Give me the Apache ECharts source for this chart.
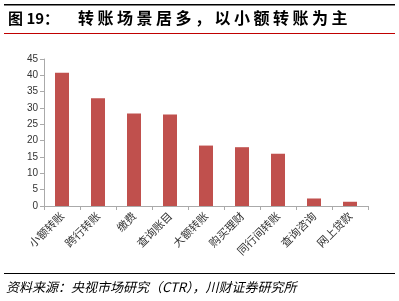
<!DOCTYPE html>
<html><head><meta charset="utf-8">
<script src="https://cdn.jsdelivr.net/npm/echarts@6/dist/echarts.min.js"></script>
<style>html,body{margin:0;padding:0;background:#fff;}#c{width:399px;height:301px;}</style>
</head><body><div id="c"></div>
<script>
var categories = ['小额转账','跨行转账','缴费','查询账目','大额转账','购买理财','同行间转账','查询咨询','网上贷款'];
var values = [40.8, 33, 28.3, 28, 18.5, 18, 16, 2.3, 1.3];
var yTicks = [0,5,10,15,20,25,30,35,40,45];
var titleHead = '图 19：';
var titleText = '转账场景居多，以小额转账为主';
var sourceText = '资料来源：央视市场研究（CTR），川财证券研究所';

var graphics = [
  {type: 'rect', shape: {x: 4, y: 4, width: 391, height: 1.5}, style: {fill: '#000'}},
  {type: 'text', x: 8, y: 11, style: {text: titleHead, font: 'bold 15px "Noto Sans CJK SC"', fill: '#000'}},
  {type: 'rect', shape: {x: 4, y: 33, width: 391, height: 1}, style: {fill: '#C00000'}},
  {type: 'rect', shape: {x: 4, y: 273, width: 391, height: 1}, style: {fill: '#000'}},
  {type: 'text', x: 6, y: 281, style: {text: sourceText, font: 'italic 13px "Noto Sans CJK SC"', fill: '#000'}}
];
var chars = titleText.split('');
for (var i = 0; i < chars.length; i++) {
  graphics.push({type: 'text', x: 78 + i * 19.5, y: 10, style: {text: chars[i], font: 'bold 16px "Noto Sans CJK SC"', fill: '#000'}});
}

var chart = echarts.init(document.getElementById('c'));
chart.setOption({
  animation: false,
  backgroundColor: '#fff',
  grid: {left: 44, right: 31, top: 59, bottom: 95, containLabel: false},
  xAxis: {
    type: 'category', data: categories,
    axisLine: {lineStyle: {color: '#aaaaaa', width: 1}},
    axisTick: {show: true, alignWithLabel: false, length: 4, lineStyle: {color: '#aaaaaa'}},
    axisLabel: {rotate: 45, fontSize: 11, color: '#333', margin: 8, interval: 0, fontFamily: 'Noto Sans CJK SC'}
  },
  yAxis: {
    type: 'value', min: 0, max: 45, interval: 5,
    axisLine: {show: true, lineStyle: {color: '#aaaaaa'}},
    axisTick: {show: true, length: 4, lineStyle: {color: '#aaaaaa'}},
    splitLine: {show: false},
    axisLabel: {fontSize: 10, color: '#333', margin: 6, fontFamily: 'Liberation Sans'}
  },
  series: [{type: 'bar', data: values, barWidth: 14, itemStyle: {color: '#C0504D'}}],
  graphic: graphics
});
</script></body></html>
